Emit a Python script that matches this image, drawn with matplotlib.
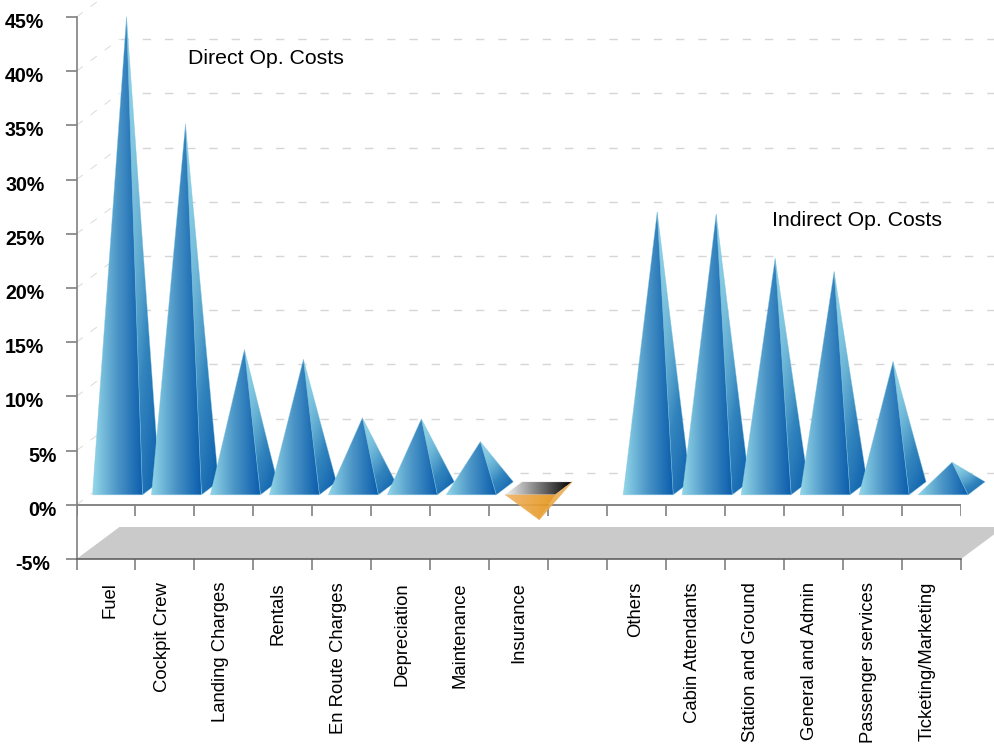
"""
Airline operating cost breakdown drawn as pseudo-3D pyramids.
Outputs: out.png
"""

import numpy as np
import matplotlib
matplotlib.use("Agg")
import matplotlib.pyplot as plt
from matplotlib.colors import LinearSegmentedColormap
from matplotlib.patches import Polygon
from matplotlib.transforms import ScaledTranslation

categories = ["Fuel", "Cockpit Crew", "Landing Charges", "Rentals",
              "En Route Charges", "Depreciation", "Maintenance", "Insurance",
              "", "Others", "Cabin Attendants", "Station and Ground",
              "General and Admin", "Passenger services", "Ticketing/Marketing"]
# percent of total cost, the blank slot separates direct from indirect costs
values = [44.1, 34.2, 13.4, 12.5, 7.1, 7.0, 4.9, -2.3,
          None, 26.1, 25.9, 21.8, 20.6, 12.3, 3.0]
ytick_values = [-5, 0, 5, 10, 15, 20, 25, 30, 35, 40, 45]

W, H = 994, 745
AX_L, AX_R, AX_T, AX_B = 76.5, 961, 17, 559
PX_X = 15 / (AX_R - AX_L)   # data units per pixel
PX_Y = 50 / (AX_B - AX_T)

blue = LinearSegmentedColormap.from_list("blue", ["#93D7E8", "#4A94C6", "#0B5DAD"])
blue_side = LinearSegmentedColormap.from_list("blue_side", ["#8FD3E6", "#3385BE", "#1062AE"])
orange = LinearSegmentedColormap.from_list("orange", ["#F0B468", "#E4951A"])
orange_side = LinearSegmentedColormap.from_list("orange_side", ["#E9A23A", "#F2B566"])
metal = LinearSegmentedColormap.from_list("metal", ["#F4F4F4", "#000000"])

plt.rcParams["font.family"] = ["Liberation Sans", "DejaVu Sans"]

fig = plt.figure(figsize=(W / 100, H / 100), dpi=100)
ax = fig.add_axes([AX_L / W, 1 - AX_B / H, (AX_R - AX_L) / W, (AX_B - AX_T) / H])


def face(pts, cmap, zorder, alpha=1.0, shaded=False):
    # one polygon filled with a gradient over its own width,
    # side faces also get darker towards the base
    pts = np.array(pts)
    xs, ys = pts[:, 0], pts[:, 1]
    if shaded:
        xf, hf = np.meshgrid(np.linspace(0, 1, 128), np.linspace(0, 1, 128))
        grad = np.clip(0.65 * (1 - hf) ** 1.8 + 0.5 * xf ** 2, 0, 1)
    else:
        grad = np.linspace(0, 1, 256).reshape(1, -1)
    im = ax.imshow(grad, extent=(xs.min(), xs.max(), ys.min(), ys.max()),
                   cmap=cmap, vmin=0, vmax=1, aspect="auto", origin="lower",
                   interpolation="bilinear", alpha=alpha, zorder=zorder)
    outline = Polygon(pts, closed=True, fc="none", ec="none", clip_on=False,
                      transform=ax.transData)
    ax.add_patch(outline)
    im.set_clip_box(fig.bbox)
    im.set_clip_path(outline)
    # soft edge hides the hard clip of the image
    ax.add_patch(Polygon(pts, closed=True, fc="none", ec=cmap(0.12), lw=0.5,
                         alpha=0.55 * alpha, clip_on=False, zorder=zorder + 0.1))


# floor
depth_x, depth_y = 43 * PX_X, 32 * PX_Y
ax.add_patch(Polygon([(0, -5), (depth_x, -5 + depth_y),
                      (15 + depth_x, -5 + depth_y), (15, -5)],
                     closed=True, fc="#CACACA", ec="none", clip_on=False, zorder=1))

# dashed grid on the back wall and the left wall
for v in ytick_values[1:]:
    ax.plot([depth_x, 15 + depth_x], [v + depth_y, v + depth_y], color="#D6D6D6",
            lw=1.0, dashes=(6, 10), clip_on=False, zorder=1)
    ax.plot([0, depth_x], [v, v + depth_y], color="#DADADA", lw=0.7,
            dashes=(8, 10), clip_on=False, zorder=1)

# pyramids, left to right so each one overlaps its neighbour's side face
base = 10 * PX_Y
width = 50 * PX_X
for i, v in enumerate(values):
    if v is None:
        continue
    x0 = i + 16 * PX_X
    x1 = x0 + width
    xb = x1 + 17 * PX_X
    yb = base + 13 * PX_Y
    xa = x0 + 34 * PX_X
    ya = base + v
    z = 5 + i * 0.5
    if v >= 0:
        face([(x1, base), (xb, yb), (xa, ya)], blue_side, z, shaded=True)
        face([(x0, base), (x1, base), (xa, ya)], blue, z + 0.2)
    else:
        face([(x0, base), (x1, base), (xb, yb), (x0 + 17 * PX_X, yb)], metal, z)
        face([(x1, base), (xb, yb), (xa, ya)], orange_side, z + 0.1, alpha=0.92)
        face([(x0, base), (x1, base), (xa, ya)], orange, z + 0.2, alpha=0.93)

# axes and ticks
ax.set_xlim(0, 15)
ax.set_ylim(-5, 45)
for side in ["top", "right"]:
    ax.spines[side].set_visible(False)
ax.spines["left"].set_color("#808080")
ax.spines["left"].set_linewidth(1.2)
ax.spines["bottom"].set_color("#606060")
ax.spines["bottom"].set_linewidth(1.2)
ax.patch.set_alpha(0)

ax.axhline(0, color="#707070", lw=1.2, zorder=2)
ax.vlines(np.arange(0, 16), -11 * PX_Y, 0, color="#808080", lw=1.2, zorder=2)

ax.set_xticks(np.arange(0, 16))
ax.set_xticklabels([])
ax.tick_params(axis="x", length=8, width=1.2, color="#808080")
ax.set_yticks(ytick_values)
ax.set_yticklabels(["%d%%" % v for v in ytick_values], fontsize=14.1, fontweight="bold")
ax.tick_params(axis="y", length=8, width=1.2, color="#808080", pad=6.5)

# the tick labels do not share one right edge
for lab, v in zip(ax.get_yticklabels(), ytick_values):
    if v == -5:
        shift = -6
    elif abs(v) >= 10:
        shift = -12
    else:
        shift = 0
    lab.set_transform(lab.get_transform() +
                      ScaledTranslation(shift / 100, -3.5 / 100, fig.dpi_scale_trans))

# category labels, rotated and hanging below the axis
label_left = [102, 154, 212, 270, 330, 394, 452, 510, None,
              627, 684, 742, 801, 860, 919]
for name, left in zip(categories, label_left):
    if left is None:
        continue
    fig.text(left / W, 1 - 582 / H, name, rotation=90, ha="left", va="top", fontsize=13.3)

fig.text(188 / W, 1 - 59 / H, "Direct Op. Costs", ha="left", va="center", fontsize=15.3)
fig.text(772 / W, 1 - 221 / H, "Indirect Op. Costs", ha="left", va="center", fontsize=15.3)

fig.savefig("out.png", dpi=100)

# EOF
